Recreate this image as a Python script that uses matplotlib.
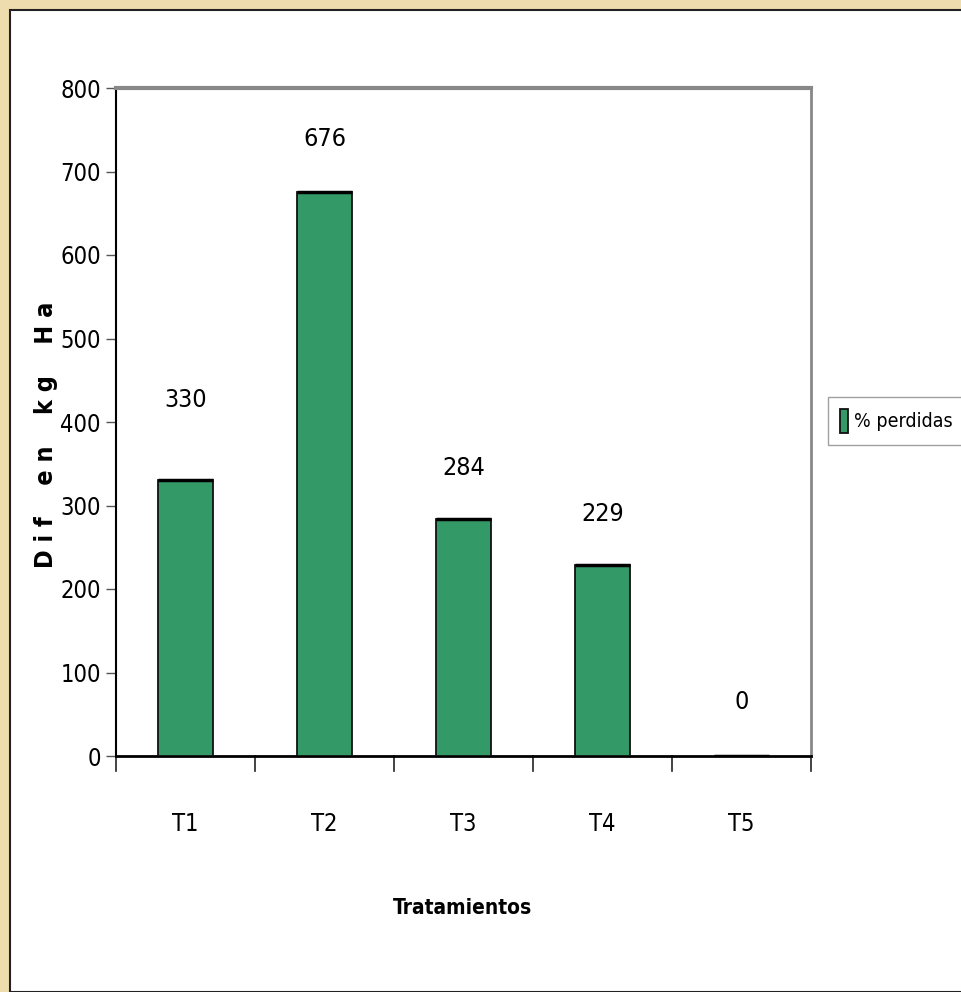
import matplotlib.pyplot as plt
from matplotlib.patches import Rectangle
from matplotlib import font_manager

# Datos
tratamientos = ["T1", "T2", "T3", "T4", "T5"]
diferencias = [330, 676, 284, 229, 0]
serie = "% perdidas"

# buscar una fuente estrecha (como Arial Narrow)
estrechas = [f.name for f in font_manager.fontManager.ttflist
             if "Narrow" in f.name or f.stretch in ("condensed", "semi-condensed", 600, 500)]
fuente = estrechas[0] if estrechas else "Liberation Sans"
estira = "condensed" if estrechas else "normal"
plt.rcParams["font.family"] = [fuente, "DejaVu Sans"]
plt.rcParams["font.stretch"] = estira

W, H = 962, 992
fig = plt.figure(figsize=(W / 100, H / 100), dpi=100, facecolor="#EEDBAE")

# marco blanco
fig.patches.append(Rectangle((10 / W, 0), 1, 1 - 10 / H, transform=fig.transFigure,
                             facecolor="white", edgecolor="#222222", linewidth=1.5, zorder=-5))

ax = fig.add_axes([116 / W, 1 - 756 / H, (811 - 116) / W, (756 - 88) / H])
ax.set_facecolor("white")

x = range(len(tratamientos))
barras = ax.bar(x, diferencias, width=0.4, color="#339966", edgecolor="#111111",
                linewidth=1.3, label=serie, zorder=3)
# borde superior grueso
ax.bar(x, [0] * len(x), bottom=diferencias, width=0.4, edgecolor="black",
       linewidth=2.5, zorder=4, color="none")

ax.set_xlim(-0.5, len(tratamientos) - 0.5)
ax.set_ylim(0, 800)
ax.set_yticks(range(0, 801, 100))
ax.tick_params(axis="y", direction="out", length=7, width=1, color="#555555",
               labelsize=17, pad=4)
ax.set_xticks(x)
ax.set_xticklabels(tratamientos)
ax.tick_params(axis="x", length=0, labelsize=17, pad=40)
# marcas del eje x entre categorias
for b in [i - 0.5 for i in range(len(tratamientos) + 1)]:
    ax.plot([b, b], [0, -0.022], transform=ax.get_xaxis_transform(), color="#222222",
            linewidth=1.2, clip_on=False)

for s in ["top", "right"]:
    ax.spines[s].set_color("#888888")
ax.spines["top"].set_linewidth(3)
ax.spines["right"].set_linewidth(2)
ax.spines["left"].set_linewidth(1.5)
ax.spines["bottom"].set_linewidth(2)

# etiquetas de datos
desplaz_px = [80, 53, 51, 51, 54]
for i, v in enumerate(diferencias):
    ax.annotate(str(v), (i, v), xytext=(0, desplaz_px[i] * 0.72), textcoords="offset points",
                ha="center", va="center", fontsize=18)

fig.text(463 / W, 1 - 908 / H, "Tratamientos", ha="center", va="center",
         fontsize=15, fontweight="bold")
fig.text(46 / W, 1 - 435 / H, "D i f    e n    k g    H a", rotation=90, ha="center",
         va="center", fontsize=18, fontweight="bold")

fig.legend(handles=[barras], labels=[serie], loc="center left",
           bbox_to_anchor=(828 / W, 1 - 421 / H), fontsize=14, frameon=True,
           fancybox=False, edgecolor="#888888", handlelength=0.45, handleheight=1.5,
           handletextpad=0.3, borderpad=0.6, borderaxespad=0)

fig.savefig("out.png", dpi=100, facecolor=fig.get_facecolor())
